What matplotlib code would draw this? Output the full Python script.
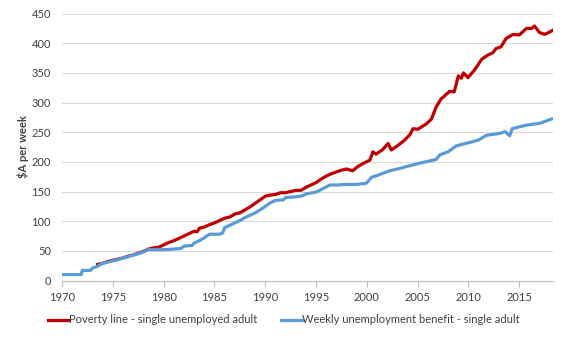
import matplotlib
matplotlib.use("Agg")
import matplotlib.pyplot as plt

plt.rcParams['font.family'] = ['Lato', 'DejaVu Sans']

# Poverty line - single unemployed adult ($A per week)
pov_year = [1973.5, 1974.0, 1974.5, 1975.0, 1975.5, 1976.0, 1976.5, 1977.0, 1977.5, 1978.0,
            1978.5, 1979.0, 1979.5, 1980.0, 1980.5, 1981.0, 1981.5, 1982.0, 1982.5, 1983.0,
            1983.3, 1983.5, 1984.0, 1984.5, 1985.0, 1985.5, 1986.0, 1986.5, 1987.0, 1987.5,
            1988.0, 1988.5, 1989.0, 1989.5, 1990.0, 1990.5, 1991.0, 1991.5, 1992.0, 1992.5,
            1993.0, 1993.5, 1994.0, 1994.5, 1995.0, 1995.5, 1996.0, 1996.5, 1997.0, 1997.5,
            1998.0, 1998.6, 1999.1, 1999.6, 2000.3, 2000.6, 2000.9, 2001.5, 2002.1, 2002.4,
            2003.0, 2003.6, 2004.2, 2004.55, 2005.0, 2005.85, 2006.35, 2006.8, 2007.3, 2008.15,
            2008.6, 2009.0, 2009.3, 2009.5, 2009.95, 2010.6, 2011.3, 2011.9, 2012.4, 2012.7,
            2013.2, 2013.7, 2014.4, 2015.0, 2015.7, 2016.2, 2016.5, 2017.0, 2017.5, 2018.0,
            2018.3]
pov_value = [27, 29, 32, 34, 36, 38, 41, 43, 46, 49,
             53, 55, 56, 60, 64, 67, 71, 75, 79, 83,
             82, 88, 90, 94, 97, 101, 105, 107, 112, 114,
             119, 124, 130, 136, 142, 144, 145, 148, 148, 150,
             152, 152, 157, 161, 165, 171, 176, 180, 183, 186,
             188, 185, 192, 197, 203, 217, 213, 220, 231, 220,
             227, 235, 245, 256, 255, 264, 272, 292, 306, 319,
             318, 345, 341, 350, 342, 355, 373, 380, 384, 391,
             394, 408, 415, 414, 425, 425, 429, 418, 415, 419,
             422]

# Weekly unemployment benefit - single adult
ben_year = [1970.0, 1971.9, 1972.0, 1972.8, 1973.0, 1973.5, 1974.0, 1974.5, 1975.0, 1975.5,
            1976.0, 1976.5, 1977.0, 1977.5, 1978.0, 1978.5, 1979.0, 1980.0, 1981.0, 1981.7,
            1982.0, 1982.8, 1983.0, 1983.5, 1984.0, 1984.5, 1985.5, 1985.8, 1986.0, 1986.5,
            1987.0, 1987.5, 1988.0, 1988.5, 1989.0, 1989.5, 1990.0, 1990.5, 1991.0, 1991.8,
            1992.0, 1993.0, 1993.7, 1994.0, 1995.0, 1995.7, 1996.35, 1997.0, 1998.0, 1999.0,
            1999.96, 2000.45, 2001.0, 2002.25, 2003.0, 2004.55, 2005.5, 2006.8, 2007.2, 2008.0,
            2008.8, 2010.4, 2011.0, 2011.8, 2013.1, 2013.6, 2014.05, 2014.3, 2015.0, 2015.7,
            2017.0, 2018.3]
ben_value = [10, 10, 17, 17, 21, 24, 29, 31, 33, 35,
             38, 40, 43, 45, 48, 52, 52, 52, 53, 54,
             58, 59, 63, 67, 72, 78, 78, 80, 89, 93,
             97, 101, 106, 110, 114, 119, 125, 131, 135, 136,
             140, 141, 143, 146, 149, 155, 161, 161, 162, 162,
             164, 174, 177, 185, 188, 195, 199, 204, 212, 217,
             227, 234, 237, 245, 248, 251, 244, 256, 259, 262,
             265, 273]

x_ticks = [1970, 1975, 1980, 1985, 1990, 1995, 2000, 2005, 2010, 2015]
y_ticks = [0, 50, 100, 150, 200, 250, 300, 350, 400, 450]

fig = plt.figure(figsize=(5.67, 3.4), dpi=100)
ax = fig.add_axes([0.1093, 0.175, 0.8657, 0.785])

ax.plot(pov_year, pov_value, color="#C00000", linewidth=2.3,
        label="Poverty line - single unemployed adult", solid_joinstyle="round")
ax.plot(ben_year, ben_value, color="#5B9BD5", linewidth=2.3,
        label="Weekly unemployment benefit - single adult", solid_joinstyle="round")

ax.set_xlim(1970, 2018.3)
ax.set_ylim(0, 450)
ax.set_xticks(x_ticks)
ax.set_yticks(y_ticks)
ax.grid(axis="y", color="#d9d9d9", linewidth=0.8)
ax.set_axisbelow(True)
for s in ["top", "right", "left"]:
    ax.spines[s].set_visible(False)
ax.spines["bottom"].set_color("#bfbfbf")
ax.tick_params(axis="y", length=0, labelsize=8, colors="#404040", pad=8)
ax.tick_params(axis="x", length=4, color="#bfbfbf", labelsize=8, labelcolor="#404040", pad=4)
ax.set_ylabel(r"\$A per week", fontsize=8, fontweight="bold", color="#404040", labelpad=2)

fig.legend(loc="center", bbox_to_anchor=(0.501, 0.059), ncol=2, frameon=False,
           fontsize=8, handlelength=1.9, handletextpad=0.0, columnspacing=2.1,
           labelcolor="#404040")

fig.savefig("out.png", dpi=100)
